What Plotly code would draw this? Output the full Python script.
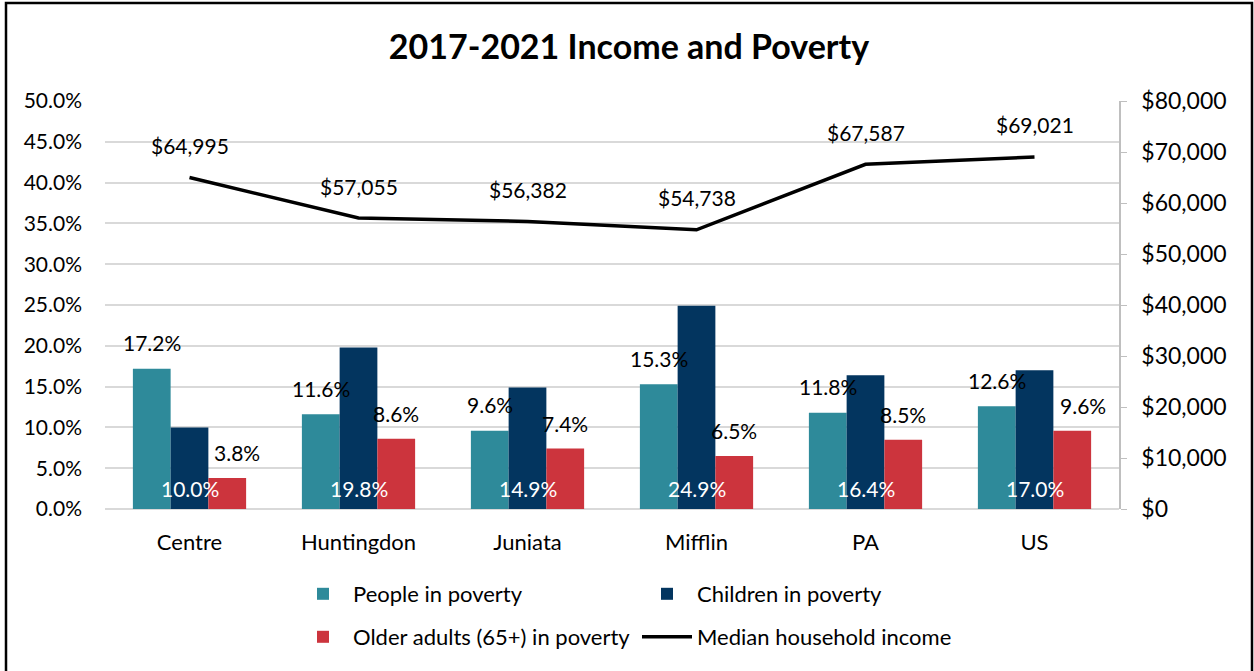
import plotly.graph_objects as go

categories = ["Centre", "Huntingdon", "Juniata", "Mifflin", "PA", "US"]
people_pct = [17.2, 11.6, 9.6, 15.3, 11.8, 12.6]
children_pct = [10.0, 19.8, 14.9, 24.9, 16.4, 17.0]
older_pct = [3.8, 8.6, 7.4, 6.5, 8.5, 9.6]
median_income = [64995, 57055, 56382, 54738, 67587, 69021]

FONT = "Lato"
C_PEOPLE = "#2E8A9A"
C_CHILD = "#03355F"
C_OLDER = "#CC343D"
BARGAP = 0.33
BW = (1 - BARGAP) / 3
older_label_dx = [10, 0, 0, 0, 0, 11]

fig = go.Figure()
fig.add_trace(go.Bar(name="People in poverty", x=categories, y=people_pct, legend="legend",
                     marker=dict(color=C_PEOPLE, line=dict(width=0))))
fig.add_trace(go.Bar(name="Children in poverty", x=categories, y=children_pct, legend="legend",
                     marker=dict(color=C_CHILD, line=dict(width=0))))
fig.add_trace(go.Bar(name="Older adults (65+) in poverty", x=categories, y=older_pct, legend="legend2",
                     marker=dict(color=C_OLDER, line=dict(width=0))))
fig.add_trace(go.Scatter(name="Median household income", x=categories, y=median_income, legend="legend2",
                         yaxis="y2", mode="lines", line=dict(color="black", width=3.5)))

ann = []
lab_font = dict(family=FONT, size=21, color="black")
for i, c in enumerate(categories):
    ann.append(dict(x=i - BW, y=people_pct[i], xref="x", yref="y", text=f"{people_pct[i]:.1f}%",
                    showarrow=False, yshift=26, font=lab_font))
    ann.append(dict(x=i, y=0, xref="x", yref="y", text=f"{children_pct[i]:.1f}%",
                    showarrow=False, yshift=21, font=dict(family=FONT, size=21, color="white")))
    ann.append(dict(x=i + BW, y=older_pct[i], xref="x", yref="y", text=f"{older_pct[i]:.1f}%",
                    showarrow=False, yshift=25, xshift=older_label_dx[i], font=lab_font))
    ann.append(dict(x=i, y=median_income[i], xref="x", yref="y2", text=f"${median_income[i]:,}",
                    showarrow=False, yshift=32, font=lab_font))

leg_common = dict(orientation="h", xanchor="left", yanchor="middle", entrywidth=279,
                  traceorder="normal", itemwidth=50, bgcolor="rgba(0,0,0,0)",
                  font=dict(family=FONT, size=22, color="black"))

fig.update_layout(
    width=1254, height=671,
    margin=dict(l=105, r=135, t=101, b=162, autoexpand=False),
    paper_bgcolor="white", plot_bgcolor="white",
    barmode="group", bargap=BARGAP, bargroupgap=0,
    font=dict(family=FONT, size=20, color="black"),
    title=dict(text="<b>2017-2021 Income and Poverty</b>", x=0.5016, xref="container",
               y=1 - 47 / 671, yref="container", xanchor="center", yanchor="middle",
               font=dict(family=FONT, size=34, color="black")),
    xaxis=dict(showline=False, ticks="", ticklabelstandoff=18,
               tickfont=dict(family=FONT, size=22, color="black")),
    yaxis=dict(range=[0, 50], dtick=5, tickformat=".1f", ticksuffix="%",
               showgrid=True, gridcolor="#D9D9D9", gridwidth=1.5,
               zeroline=True, zerolinecolor="#D9D9D9", zerolinewidth=1.5,
               showline=False, ticks="", ticklabelstandoff=22,
               tickfont=dict(family=FONT, size=21, color="black")),
    yaxis2=dict(range=[0, 80000], dtick=10000, tickformat="$,.0f", overlaying="y", side="right",
                showgrid=False, zeroline=False, showline=True, linecolor="#BFBFBF", linewidth=1.5,
                ticks="outside", ticklen=6, tickcolor="#BFBFBF", ticklabelstandoff=10,
                tickfont=dict(family=FONT, size=23, color="black")),
    legend=dict(x=(293 - 105) / 1014, y=(509 - 594) / 408, **leg_common),
    legend2=dict(x=(293 - 105) / 1014, y=(509 - 637) / 408, **leg_common),
    annotations=ann,
    shapes=[dict(type="rect", xref="paper", yref="paper",
                 x0=(6 - 105) / 1014, x1=(1252 - 105) / 1014,
                 y0=-0.6, y1=(509 - 3) / 408,
                 line=dict(color="black", width=2.5), fillcolor="rgba(0,0,0,0)", layer="above")],
    showlegend=True,
)

fig.write_html("out.html", config={"displayModeBar": False},
               post_script="document.body.style.margin='0';")
